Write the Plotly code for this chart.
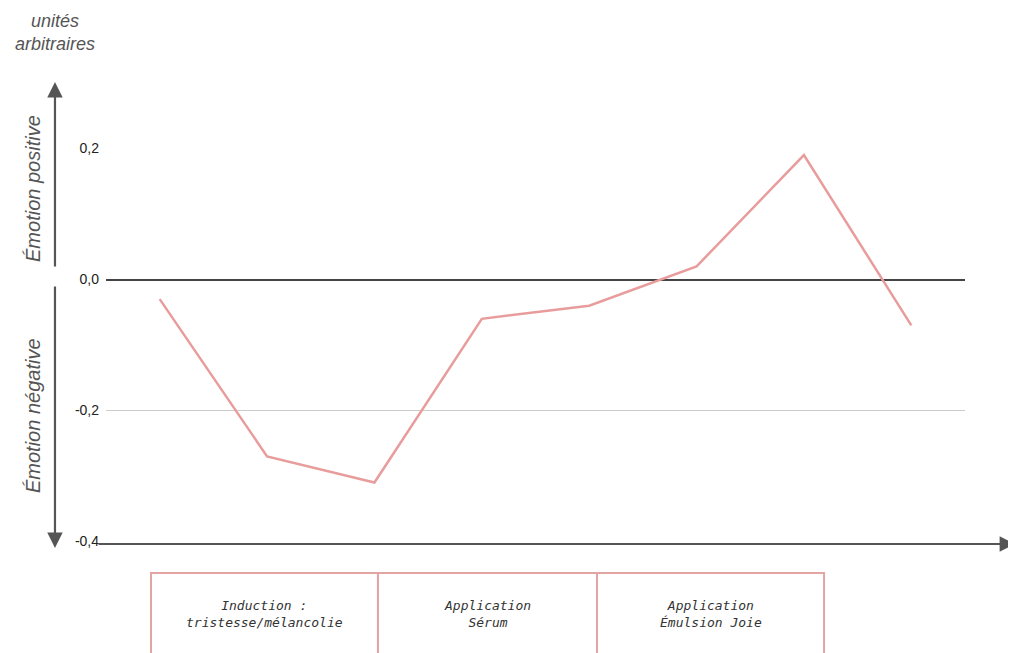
import plotly.graph_objects as go

# Data
steps = [0, 1, 2, 3, 4, 5, 6, 7]
emotion = [-0.03, -0.27, -0.31, -0.06, -0.04, 0.02, 0.19, -0.07]
y_ticks = [-0.4, -0.2, 0.0, 0.2]
y_tick_text = ["-0,4", "-0,2", "0,0", "0,2"]
phase_labels = ["Induction :<br>tristesse/mélancolie", "Application<br>Sérum", "Application<br>Émulsion Joie"]
phase_bounds = [(0.0524, 0.3166), (0.3166, 0.5716), (0.5716, 0.8359)]

# page body has an 8px margin, so the figure is sized to fill the remaining window
W, H = 1008, 645
L, R, T, B = 98, 51, 140, 111

fig = go.Figure()
fig.add_trace(go.Scatter(
    x=steps, y=emotion, mode="lines",
    line=dict(color="#e89c9c", width=2.5),
    hoverinfo="skip", showlegend=False, cliponaxis=False,
))

fig.update_layout(
    width=W, height=H,
    margin=dict(l=L, r=R, t=T, b=B),
    paper_bgcolor="white", plot_bgcolor="white",
    font=dict(family="Liberation Sans, Arial, sans-serif", size=14, color="#222"),
    xaxis=dict(range=[-0.5, 7.5], showgrid=False, zeroline=False, showticklabels=False,
               showline=False, ticks=""),
    yaxis=dict(range=[-0.4008, 0.2008], tickvals=y_ticks, ticktext=y_tick_text,
               showgrid=True, gridcolor="#cccccc", gridwidth=1,
               zeroline=True, zerolinecolor="#444444", zerolinewidth=1.5,
               showline=False, ticks="", ticklabelstandoff=6),
)

anns = []
arrow_style = dict(showarrow=True, arrowhead=2, arrowsize=1.4, arrowwidth=2.2,
                   arrowcolor="#555555", text="", xref="paper", yref="paper")
anns.append(dict(x=-0.0594, y=1.1675, ax=0, ay=186, **arrow_style))
anns.append(dict(x=-0.0594, y=-0.0152, ax=0, ay=-263, **arrow_style))
anns.append(dict(x=1.0594, y=-0.0051, ax=-919, ay=0, **arrow_style))

title_font = dict(color="#555555", style="italic", family="Liberation Sans, Arial, sans-serif")
anns.append(dict(x=-0.0594, y=1.3528, xref="paper", yref="paper", showarrow=False,
                 xanchor="center", yanchor="top",
                 text="unités<br>arbitraires", font=dict(size=18, **title_font)))
anns.append(dict(x=-0.085, y=0.8985, xref="paper", yref="paper", showarrow=False,
                 xanchor="center", yanchor="middle",
                 text="Émotion positive", textangle=-90, font=dict(size=20, **title_font)))
anns.append(dict(x=-0.085, y=0.3223, xref="paper", yref="paper", showarrow=False,
                 xanchor="center", yanchor="middle",
                 text="Émotion négative", textangle=-90, font=dict(size=20, **title_font)))

shapes = []
for (x0, x1), lab in zip(phase_bounds, phase_labels):
    shapes.append(dict(type="rect", xref="paper", yref="paper", x0=x0, x1=x1,
                       y0=-0.0787, y1=-0.35, line=dict(color="#e4a4a4", width=2),
                       fillcolor="rgba(0,0,0,0)"))
    anns.append(dict(x=(x0 + x1) / 2, y=-0.1827, xref="paper", yref="paper",
                     showarrow=False, text=lab, xanchor="center", yanchor="middle",
                     font=dict(size=13, color="#333333", style="italic",
                               family="DejaVu Sans Mono, Liberation Mono, monospace")))

fig.update_layout(annotations=anns, shapes=shapes)
fig.write_html("out.html")
